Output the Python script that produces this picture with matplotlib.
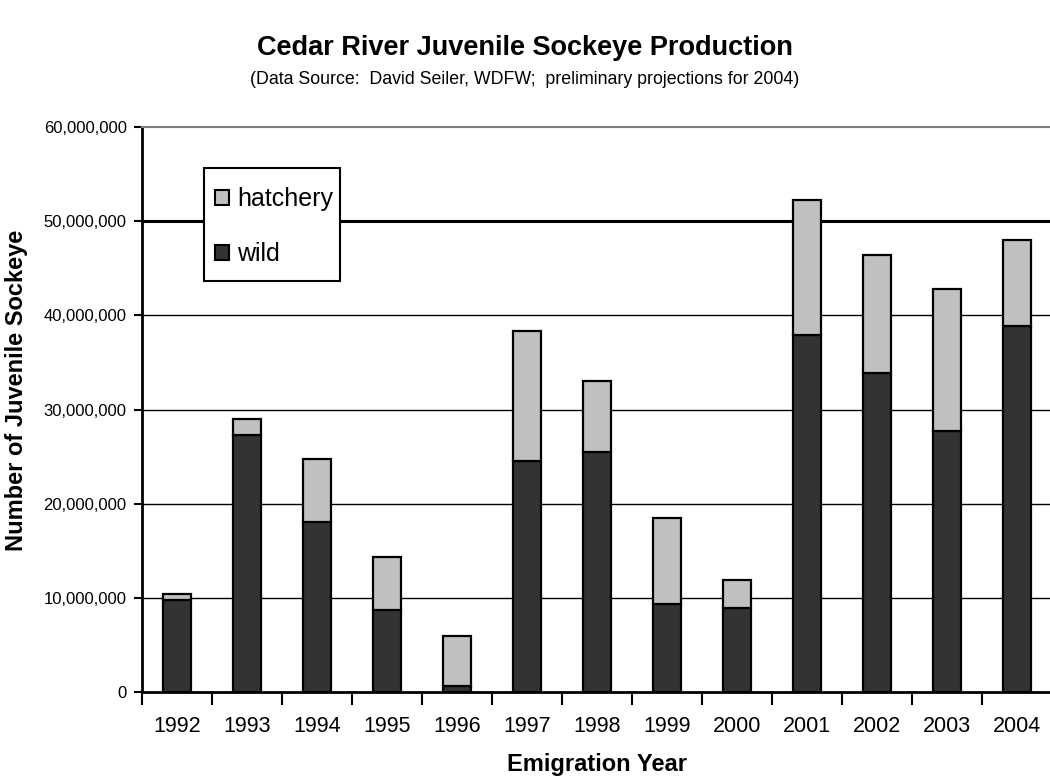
import numpy as np
import matplotlib.pyplot as plt
from matplotlib.ticker import FuncFormatter
from matplotlib.patches import Patch, Rectangle

plt.rcParams['font.family'] = ['Liberation Sans', 'DejaVu Sans']

# ---- data (number of juvenile sockeye, millions) ----
years = ['1992', '1993', '1994', '1995', '1996', '1997', '1998',
         '1999', '2000', '2001', '2002', '2003', '2004']
wild = [9.8, 27.3, 18.1, 8.75, 0.64, 24.5, 25.45,
        9.3, 8.9, 37.9, 33.9, 27.7, 38.9]
total = [10.45, 29.0, 24.7, 14.3, 5.95, 38.3, 33.0,
         18.45, 11.85, 52.3, 46.4, 42.8, 48.0]

wild = np.array(wild) * 1e6
hatchery = np.array(total) * 1e6 - wild
x = np.arange(len(years))

W, H = 1050, 780
fig = plt.figure(figsize=(W/100, H/100), dpi=100)
ax = fig.add_axes([142/W, 1 - 692/H, 910/W, 565/H])

# ---- gridlines ----
for v in [10e6, 20e6, 30e6, 40e6]:
    ax.axhline(v, color='black', lw=1.0, zorder=0)
ax.axhline(50e6, color='black', lw=2.2, zorder=0)

# ---- stacked bars ----
ax.bar(x, wild, width=0.4, color='#333333', edgecolor='black', lw=1.6, zorder=2)
ax.bar(x, hatchery, width=0.4, bottom=wild, color='#c0c0c0',
       edgecolor='black', lw=1.6, zorder=2)

ax.set_xlim(-0.5, len(years) - 0.5)
ax.set_ylim(0, 60e6)

# ---- axes styling ----
ax.spines['right'].set_visible(False)
ax.spines['top'].set_color('#808080')
ax.spines['top'].set_linewidth(1.5)
ax.spines['left'].set_linewidth(2)
ax.spines['bottom'].set_linewidth(2)

ax.set_yticks(np.arange(0, 60e6 + 1, 10e6))
ax.yaxis.set_major_formatter(FuncFormatter(lambda v, p: f'{int(v):,}'))
ax.tick_params(axis='y', direction='out', length=6, width=1.5,
               labelsize=12, colors='black', pad=5)

ax.set_xticks(np.arange(-0.5, len(years), 1.0))
ax.set_xticklabels([])
ax.set_xticks(x, minor=True)
ax.set_xticklabels(years, minor=True, fontsize=15.5)
ax.tick_params(axis='x', which='major', direction='out', length=9, width=1.5)
ax.tick_params(axis='x', which='minor', length=0, pad=17)

# ---- legend: white box with a square swatch per series ----
ax.add_patch(Rectangle((204/W, 1 - 281/H), 136/W, 113/H, transform=fig.transFigure,
                       facecolor='white', edgecolor='black', lw=1.5,
                       zorder=4, clip_on=False))
handles = [Patch(facecolor='#c0c0c0', edgecolor='black', lw=1.5, label='hatchery'),
           Patch(facecolor='#333333', edgecolor='black', lw=1.5, label='wild')]
leg = ax.legend(handles=handles, loc='upper left',
                bbox_to_anchor=(215/W, 1 - 187/H), bbox_transform=fig.transFigure,
                fontsize=18, frameon=False, handlelength=0.55, handleheight=0.55,
                handletextpad=0.35, labelspacing=1.25, borderpad=0,
                borderaxespad=0)
leg.set_zorder(5)

# ---- titles and axis labels ----
fig.text(0.5, 1 - 48/H, 'Cedar River Juvenile Sockeye Production',
         ha='center', va='center', fontsize=19.5, fontweight='bold')
fig.text(0.5, 1 - 80/H,
         '(Data Source:  David Seiler, WDFW;  preliminary projections for 2004)',
         ha='center', va='center', fontsize=12.8)
fig.text((142 + 910/2)/W, 1 - 765/H, 'Emigration Year',
         ha='center', va='center', fontsize=17, fontweight='bold')
fig.text(17/W, 1 - 390/H, 'Number of Juvenile Sockeye', rotation=90,
         ha='center', va='center', fontsize=17, fontweight='bold')

fig.savefig('out.png', dpi=100)
